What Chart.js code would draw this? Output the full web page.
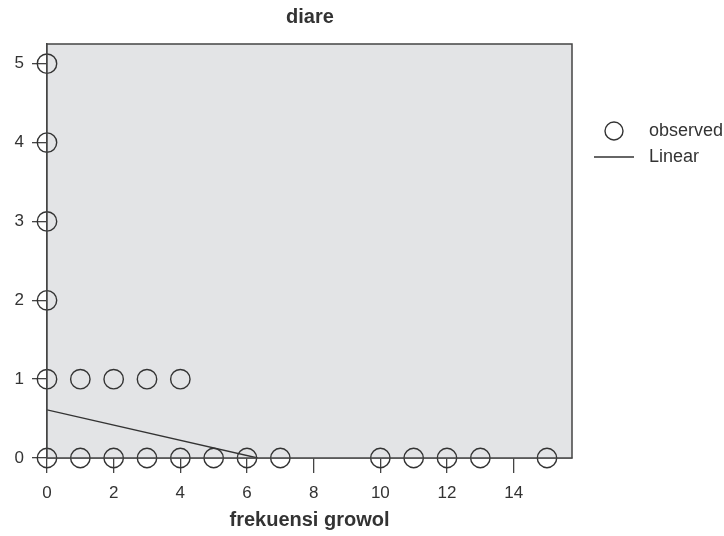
<!DOCTYPE html>
<html>
<head>
<meta charset="utf-8">
<script src="https://cdn.jsdelivr.net/npm/chart.js@4/dist/chart.umd.min.js"></script>
<style>
  html, body { margin: 0; padding: 0; background: #fff; }
  #wrap { width: 724px; height: 536px; }
</style>
</head>
<body>
<div id="wrap"><canvas id="c" width="724" height="536"></canvas></div>
<script>
// observed points (frekuensi growol, diare)
const obsX = [0, 0, 0, 0, 0, 1, 2, 3, 4, 0, 1, 2, 3, 4, 5, 6, 7, 10, 11, 12, 13, 15];
const obsY = [5, 4, 3, 2, 1, 1, 1, 1, 1, 0, 0, 0, 0, 0, 0, 0, 0, 0, 0, 0, 0, 0];
// linear fit (clipped at y = 0)
const fitX = [0, 6.32];
const fitY = [0.61, 0];
const xTicks = [0, 2, 4, 6, 8, 10, 12, 14];
const yTicks = [0, 1, 2, 3, 4, 5];
const legendLabels = ['observed', 'Linear'];

const ink = '#333';
const font = 'Liberation Sans, Arial, sans-serif';

const plotFrame = {
  id: 'plotFrame',
  beforeDatasetsDraw(chart) {
    const { ctx, chartArea: a } = chart;
    ctx.save();
    ctx.fillStyle = '#e3e4e6';
    ctx.fillRect(a.left, a.top, a.right - a.left, a.bottom - a.top);
    ctx.restore();
  },
  afterDatasetsDraw(chart) {
    const { ctx, chartArea: a } = chart;
    ctx.save();
    ctx.strokeStyle = '#444';
    ctx.lineWidth = 1.5;
    ctx.strokeRect(a.left, a.top, a.right - a.left, a.bottom - a.top);
    ctx.restore();
  }
};

const sideLegend = {
  id: 'sideLegend',
  afterDraw(chart) {
    const ctx = chart.ctx;
    ctx.save();
    ctx.strokeStyle = ink;
    ctx.lineWidth = 1.4;
    ctx.beginPath();
    ctx.arc(614, 131, 9, 0, Math.PI * 2);
    ctx.stroke();
    ctx.beginPath();
    ctx.moveTo(594, 157);
    ctx.lineTo(634, 157);
    ctx.stroke();
    ctx.fillStyle = ink;
    ctx.font = '18px ' + font;
    ctx.textBaseline = 'middle';
    ctx.fillText(legendLabels[0], 649, 131);
    ctx.fillText(legendLabels[1], 649, 157);
    ctx.restore();
  }
};

new Chart(document.getElementById('c'), {
  type: 'scatter',
  data: {
    datasets: [
      {
        label: legendLabels[0],
        data: obsX.map((x, i) => ({ x, y: obsY[i] })),
        pointStyle: 'circle',
        pointRadius: 9.7,
        pointHoverRadius: 9.7,
        borderColor: ink,
        borderWidth: 1.4,
        backgroundColor: 'rgba(0,0,0,0)',
        clip: false
      },
      {
        label: legendLabels[1],
        type: 'line',
        data: fitX.map((x, i) => ({ x, y: fitY[i] })),
        borderColor: ink,
        borderWidth: 1.4,
        pointRadius: 0,
        fill: false
      }
    ]
  },
  options: {
    responsive: false,
    animation: false,
    // title is centred over the plot, so the legend gap is split between padding and a blank axis
    layout: { padding: { left: 0, right: 104, top: 0, bottom: 0 } },
    plugins: {
      legend: { display: false },
      tooltip: { enabled: false },
      title: {
        display: true,
        text: 'diare',
        color: ink,
        font: { family: font, size: 20, weight: 'bold' },
        padding: { top: 5, bottom: 15 }
      }
    },
    scales: {
      x: {
        type: 'linear',
        min: 0,
        max: 15.75,
        afterBuildTicks: s => { s.ticks = xTicks.map(v => ({ value: v })); },
        afterFit: s => { s.height = 78; },
        grid: { drawOnChartArea: false, tickLength: 15, color: '#444', lineWidth: 1.3 },
        border: { display: true, color: '#444', width: 1.5 },
        ticks: { color: ink, font: { family: font, size: 17 }, padding: 10, maxRotation: 0 },
        title: {
          display: true,
          text: 'frekuensi growol',
          color: ink,
          font: { family: font, size: 20, weight: 'bold' },
          padding: { top: 0, bottom: 4 }
        }
      },
      y: {
        type: 'linear',
        min: 0,
        max: 5.25,
        afterBuildTicks: s => { s.ticks = yTicks.map(v => ({ value: v })); },
        afterFit: s => { s.width = 47; },
        grid: { drawOnChartArea: false, tickLength: 15, color: '#444', lineWidth: 1.3 },
        border: { display: true, color: '#444', width: 1.5 },
        ticks: { color: ink, font: { family: font, size: 17 }, padding: 8 }
      },
      gap: {
        type: 'linear',
        position: 'right',
        min: 0,
        max: 1,
        afterFit: s => { s.width = 48; },
        grid: { display: false },
        border: { display: false },
        ticks: { display: false }
      }
    }
  },
  plugins: [plotFrame, sideLegend]
});
</script>
</body>
</html>
